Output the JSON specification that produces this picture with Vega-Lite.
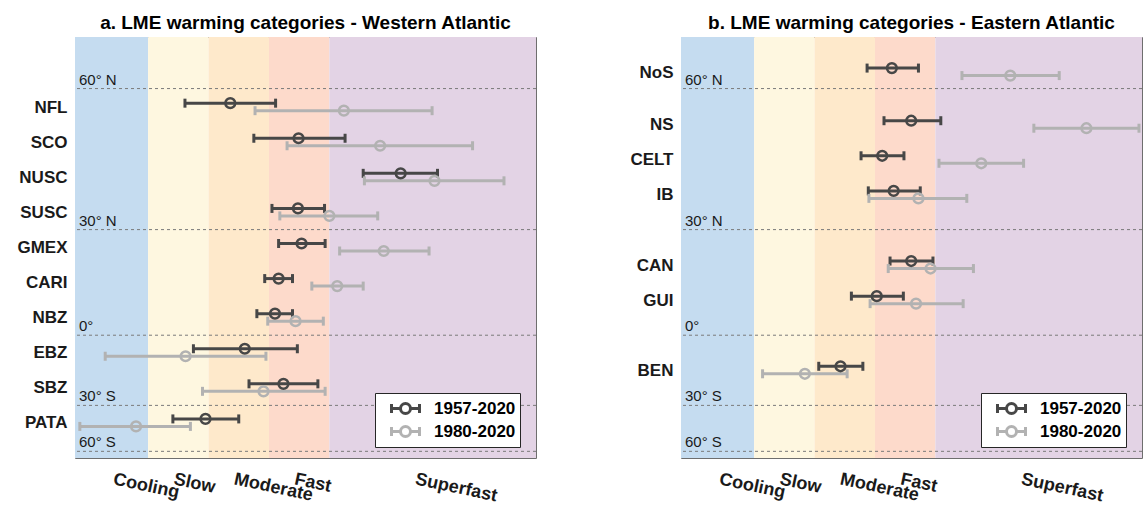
{
  "$schema": "https://vega.github.io/schema/vega-lite/v6.json",
  "padding": {"left": 16, "top": 13, "right": 2, "bottom": 2},
  "background": "white",
  "config": {
    "font": "Liberation Sans",
    "view": {"stroke": "#6e6e6e", "strokeWidth": 1},
    "axis": {"grid": false, "domain": false, "tickColor": "#6e6e6e", "tickWidth": 1, "title": null, "labelColor": "#1a1a1a", "labelOverlap": false, "labelFlush": false},
    "title": {"font": "Liberation Sans", "fontSize": 19, "fontWeight": "bold", "color": "#000000", "anchor": "middle", "frame": "group", "offset": 4},
    "legend": {"orient": "none", "legendX": 300, "legendY": 356, "title": null, "direction": "vertical",
               "symbolType": "M-1.4,-0.45V0.45M-1.4,0H-0.5M0.5,0H1.4M1.4,-0.45V0.45M-0.5,0A0.5,0.5,0,1,1,0.5,0A0.5,0.5,0,1,1,-0.5,0",
               "symbolSize": 400, "symbolStrokeWidth": 3, "symbolFillColor": "transparent", "symbolOpacity": 1, "symbolOffset": 15,
               "labelFontSize": 17, "labelFontWeight": "bold", "labelColor": "#000000", "labelOffset": 17,
               "strokeColor": "#262626", "fillColor": "#ffffff", "padding": 4, "rowPadding": 0}
  },
  "datasets": {
    "bands": [
      {"cat": "Cooling", "lo": -1.21, "hi": 0},
      {"cat": "Slow", "lo": 0, "hi": 1},
      {"cat": "Moderate", "lo": 1, "hi": 2},
      {"cat": "Fast", "lo": 2, "hi": 3},
      {"cat": "Superfast", "lo": 3, "hi": 6.42}
    ],
    "lats": [
      {"label": "60° N", "pos": 0.47},
      {"label": "30° N", "pos": 4.49},
      {"label": "0°", "pos": 7.5},
      {"label": "30° S", "pos": 9.5},
      {"label": "60° S", "pos": 10.81}
    ],
    "west": [
      {"lme": "NFL", "pos": 1, "period": "1957-2020", "lo": 0.61, "mid": 1.36, "hi": 2.11},
      {"lme": "NFL", "pos": 1, "period": "1980-2020", "lo": 1.77, "mid": 3.24, "hi": 4.70},
      {"lme": "SCO", "pos": 2, "period": "1957-2020", "lo": 1.75, "mid": 2.49, "hi": 3.26},
      {"lme": "SCO", "pos": 2, "period": "1980-2020", "lo": 2.30, "mid": 3.84, "hi": 5.37},
      {"lme": "NUSC", "pos": 3, "period": "1957-2020", "lo": 3.56, "mid": 4.18, "hi": 4.79},
      {"lme": "NUSC", "pos": 3, "period": "1980-2020", "lo": 3.58, "mid": 4.74, "hi": 5.89},
      {"lme": "SUSC", "pos": 4, "period": "1957-2020", "lo": 2.05, "mid": 2.48, "hi": 2.92},
      {"lme": "SUSC", "pos": 4, "period": "1980-2020", "lo": 2.18, "mid": 3.00, "hi": 3.80},
      {"lme": "GMEX", "pos": 5, "period": "1957-2020", "lo": 2.16, "mid": 2.54, "hi": 2.93},
      {"lme": "GMEX", "pos": 5, "period": "1980-2020", "lo": 3.17, "mid": 3.90, "hi": 4.65},
      {"lme": "CARI", "pos": 6, "period": "1957-2020", "lo": 1.93, "mid": 2.16, "hi": 2.39},
      {"lme": "CARI", "pos": 6, "period": "1980-2020", "lo": 2.71, "mid": 3.13, "hi": 3.56},
      {"lme": "NBZ", "pos": 7, "period": "1957-2020", "lo": 1.80, "mid": 2.10, "hi": 2.39},
      {"lme": "NBZ", "pos": 7, "period": "1980-2020", "lo": 1.98, "mid": 2.44, "hi": 2.90},
      {"lme": "EBZ", "pos": 8, "period": "1957-2020", "lo": 0.75, "mid": 1.60, "hi": 2.47},
      {"lme": "EBZ", "pos": 8, "period": "1980-2020", "lo": -0.71, "mid": 0.62, "hi": 1.95},
      {"lme": "SBZ", "pos": 9, "period": "1957-2020", "lo": 1.67, "mid": 2.24, "hi": 2.81},
      {"lme": "SBZ", "pos": 9, "period": "1980-2020", "lo": 0.90, "mid": 1.91, "hi": 2.93},
      {"lme": "PATA", "pos": 10, "period": "1957-2020", "lo": 0.41, "mid": 0.95, "hi": 1.50},
      {"lme": "PATA", "pos": 10, "period": "1980-2020", "lo": -1.13, "mid": -0.20, "hi": 0.70}
    ],
    "east": [
      {"lme": "NoS", "pos": 0, "period": "1957-2020", "lo": 1.87, "mid": 2.28, "hi": 2.72},
      {"lme": "NoS", "pos": 0, "period": "1980-2020", "lo": 3.44, "mid": 4.24, "hi": 5.05},
      {"lme": "NS", "pos": 1.5, "period": "1957-2020", "lo": 2.15, "mid": 2.60, "hi": 3.09},
      {"lme": "NS", "pos": 1.5, "period": "1980-2020", "lo": 4.63, "mid": 5.50, "hi": 6.37},
      {"lme": "CELT", "pos": 2.5, "period": "1957-2020", "lo": 1.77, "mid": 2.12, "hi": 2.48},
      {"lme": "CELT", "pos": 2.5, "period": "1980-2020", "lo": 3.06, "mid": 3.76, "hi": 4.46},
      {"lme": "IB", "pos": 3.5, "period": "1957-2020", "lo": 1.89, "mid": 2.31, "hi": 2.75},
      {"lme": "IB", "pos": 3.5, "period": "1980-2020", "lo": 1.90, "mid": 2.72, "hi": 3.52},
      {"lme": "CAN", "pos": 5.5, "period": "1957-2020", "lo": 2.25, "mid": 2.60, "hi": 2.96},
      {"lme": "CAN", "pos": 5.5, "period": "1980-2020", "lo": 2.22, "mid": 2.92, "hi": 3.63},
      {"lme": "GUI", "pos": 6.5, "period": "1957-2020", "lo": 1.61, "mid": 2.03, "hi": 2.47},
      {"lme": "GUI", "pos": 6.5, "period": "1980-2020", "lo": 1.92, "mid": 2.68, "hi": 3.46},
      {"lme": "BEN", "pos": 8.5, "period": "1957-2020", "lo": 1.07, "mid": 1.43, "hi": 1.80},
      {"lme": "BEN", "pos": 8.5, "period": "1980-2020", "lo": 0.14, "mid": 0.84, "hi": 1.54}
    ]
  },
  "spacing": 92,
  "resolve": {
    "scale": {"x": "independent", "y": "independent", "color": "independent", "fill": "independent"},
    "legend": {"color": "independent"}
  },
  "hconcat": [
    {
      "width": 461,
      "height": 421,
      "title": {"text": "a. LME warming categories - Western Atlantic"},
      "resolve": {"axis": {"x": "independent", "y": "independent"}},
      "layer": [
        {
          "data": {"name": "bands"},
          "mark": {"type": "rect"},
          "encoding": {
            "x": {"field": "lo", "type": "quantitative", "scale": {"domain": [-1.21, 6.42], "nice": false, "zero": false},
                  "axis": {"orient": "top", "values": [-0.5, 0.5, 1.5, 2.5, 4.5], "labels": false, "tickSize": -5}},
            "x2": {"field": "hi"},
            "fill": {"field": "cat", "type": "nominal", "legend": null,
                     "scale": {"domain": ["Cooling", "Slow", "Moderate", "Fast", "Superfast"], "range": ["#c5dcf0", "#fef7e0", "#fee9cb", "#fddacb", "#e3d3e5"]}}
          }
        },
        {
          "data": {"name": "lats"},
          "mark": {"type": "rule", "strokeDash": [3, 3], "color": "#7a7a7a", "strokeWidth": 1},
          "encoding": {
            "y": {"field": "pos", "type": "quantitative", "scale": {"domain": [-1, 11], "reverse": true, "nice": false, "zero": false},
                  "axis": {"orient": "right", "values": [1, 2, 3, 4, 5, 6, 7, 8, 9, 10], "labels": false, "tickSize": -5}}
          }
        },
        {
          "data": {"name": "lats"},
          "mark": {"type": "text", "align": "left", "baseline": "bottom", "dx": 4, "dy": -1, "fontSize": 15, "color": "#1a1a1a"},
          "encoding": {
            "x": {"datum": -1.21, "type": "quantitative", "axis": null},
            "y": {"field": "pos", "type": "quantitative", "axis": null},
            "text": {"field": "label"}
          }
        },
        {
          "data": {"name": "west"},
          "transform": [{"filter": "datum.period == '1957-2020'"}],
          "mark": {"type": "rule", "strokeWidth": 3, "color": "#474747", "yOffset": -4},
          "encoding": {
            "x": {"field": "lo", "type": "quantitative",
                  "axis": {"orient": "bottom", "values": [-0.5, 0.5, 1.5, 2.5, 4.5], "tickSize": -5, "labelPadding": 17, "labelOffset": -3,
                           "labelExpr": "datum.value < 0 ? 'Cooling' : datum.value < 1 ? 'Slow' : datum.value < 2 ? 'Moderate' : datum.value < 3 ? 'Fast' : 'Superfast'",
                           "labelAngle": 12, "labelAlign": "left", "labelBaseline": "top", "labelFontSize": 18, "labelFontWeight": "bold"}},
            "x2": {"field": "hi"},
            "y": {"field": "pos", "type": "quantitative",
                  "axis": {"orient": "left", "values": [1, 2, 3, 4, 5, 6, 7, 8, 9, 10], "tickSize": -5, "labelPadding": 13,
                           "labelExpr": "['','NFL','SCO','NUSC','SUSC','GMEX','CARI','NBZ','EBZ','SBZ','PATA'][datum.value]",
                           "labelFontSize": 17, "labelFontWeight": "bold"}}
          }
        },
        {
          "data": {"name": "west"},
          "transform": [{"filter": "datum.period == '1957-2020'"}],
          "mark": {"type": "tick", "orient": "vertical", "size": 9, "thickness": 3, "opacity": 1, "color": "#474747", "yOffset": -4},
          "encoding": {
            "x": {"field": "lo", "type": "quantitative", "axis": null},
            "y": {"field": "pos", "type": "quantitative", "axis": null}
          }
        },
        {
          "data": {"name": "west"},
          "transform": [{"filter": "datum.period == '1957-2020'"}],
          "mark": {"type": "tick", "orient": "vertical", "size": 9, "thickness": 3, "opacity": 1, "color": "#474747", "yOffset": -4},
          "encoding": {
            "x": {"field": "hi", "type": "quantitative", "axis": null},
            "y": {"field": "pos", "type": "quantitative", "axis": null}
          }
        },
        {
          "data": {"name": "west"},
          "transform": [{"filter": "datum.period == '1980-2020'"}],
          "mark": {"type": "rule", "strokeWidth": 3, "color": "#b2b2b2", "yOffset": 3.5},
          "encoding": {
            "x": {"field": "lo", "type": "quantitative", "axis": null},
            "x2": {"field": "hi"},
            "y": {"field": "pos", "type": "quantitative", "axis": null}
          }
        },
        {
          "data": {"name": "west"},
          "transform": [{"filter": "datum.period == '1980-2020'"}],
          "mark": {"type": "tick", "orient": "vertical", "size": 9, "thickness": 3, "opacity": 1, "color": "#b2b2b2", "yOffset": 3.5},
          "encoding": {
            "x": {"field": "lo", "type": "quantitative", "axis": null},
            "y": {"field": "pos", "type": "quantitative", "axis": null}
          }
        },
        {
          "data": {"name": "west"},
          "transform": [{"filter": "datum.period == '1980-2020'"}],
          "mark": {"type": "tick", "orient": "vertical", "size": 9, "thickness": 3, "opacity": 1, "color": "#b2b2b2", "yOffset": 3.5},
          "encoding": {
            "x": {"field": "hi", "type": "quantitative", "axis": null},
            "y": {"field": "pos", "type": "quantitative", "axis": null}
          }
        },
        {
          "data": {"name": "west"},
          "transform": [{"filter": "datum.period == '1957-2020'"}],
          "mark": {"type": "point", "shape": "circle", "filled": false, "size": 95, "strokeWidth": 2.5, "opacity": 1, "yOffset": -4},
          "encoding": {
            "x": {"field": "mid", "type": "quantitative", "axis": null},
            "y": {"field": "pos", "type": "quantitative", "axis": null},
            "color": {"field": "period", "type": "nominal", "scale": {"domain": ["1957-2020", "1980-2020"], "range": ["#474747", "#b2b2b2"]}}
          }
        },
        {
          "data": {"name": "west"},
          "transform": [{"filter": "datum.period == '1980-2020'"}],
          "mark": {"type": "point", "shape": "circle", "filled": false, "size": 95, "strokeWidth": 2.5, "opacity": 1, "yOffset": 3.5},
          "encoding": {
            "x": {"field": "mid", "type": "quantitative", "axis": null},
            "y": {"field": "pos", "type": "quantitative", "axis": null},
            "color": {"field": "period", "type": "nominal"}
          }
        }
      ]
    },
    {
      "width": 461,
      "height": 421,
      "title": {"text": "b. LME warming categories - Eastern Atlantic"},
      "resolve": {"axis": {"x": "independent", "y": "independent"}},
      "layer": [
        {
          "data": {"name": "bands"},
          "mark": {"type": "rect"},
          "encoding": {
            "x": {"field": "lo", "type": "quantitative", "scale": {"domain": [-1.21, 6.42], "nice": false, "zero": false},
                  "axis": {"orient": "top", "values": [-0.5, 0.5, 1.5, 2.5, 4.5], "labels": false, "tickSize": -5}},
            "x2": {"field": "hi"},
            "fill": {"field": "cat", "type": "nominal", "legend": null,
                     "scale": {"domain": ["Cooling", "Slow", "Moderate", "Fast", "Superfast"], "range": ["#c5dcf0", "#fef7e0", "#fee9cb", "#fddacb", "#e3d3e5"]}}
          }
        },
        {
          "data": {"name": "lats"},
          "mark": {"type": "rule", "strokeDash": [3, 3], "color": "#7a7a7a", "strokeWidth": 1},
          "encoding": {
            "y": {"field": "pos", "type": "quantitative", "scale": {"domain": [-1, 11], "reverse": true, "nice": false, "zero": false},
                  "axis": {"orient": "right", "values": [0, 1.5, 2.5, 3.5, 5.5, 6.5, 8.5], "labels": false, "tickSize": -5}}
          }
        },
        {
          "data": {"name": "lats"},
          "mark": {"type": "text", "align": "left", "baseline": "bottom", "dx": 4, "dy": -1, "fontSize": 15, "color": "#1a1a1a"},
          "encoding": {
            "x": {"datum": -1.21, "type": "quantitative", "axis": null},
            "y": {"field": "pos", "type": "quantitative", "axis": null},
            "text": {"field": "label"}
          }
        },
        {
          "data": {"name": "east"},
          "transform": [{"filter": "datum.period == '1957-2020'"}],
          "mark": {"type": "rule", "strokeWidth": 3, "color": "#474747", "yOffset": -4},
          "encoding": {
            "x": {"field": "lo", "type": "quantitative",
                  "axis": {"orient": "bottom", "values": [-0.5, 0.5, 1.5, 2.5, 4.5], "tickSize": -5, "labelPadding": 17, "labelOffset": -3,
                           "labelExpr": "datum.value < 0 ? 'Cooling' : datum.value < 1 ? 'Slow' : datum.value < 2 ? 'Moderate' : datum.value < 3 ? 'Fast' : 'Superfast'",
                           "labelAngle": 12, "labelAlign": "left", "labelBaseline": "top", "labelFontSize": 18, "labelFontWeight": "bold"}},
            "x2": {"field": "hi"},
            "y": {"field": "pos", "type": "quantitative",
                  "axis": {"orient": "left", "values": [0, 1.5, 2.5, 3.5, 5.5, 6.5, 8.5], "tickSize": -5, "labelPadding": 13,
                           "labelExpr": "datum.value == 0 ? 'NoS' : datum.value == 1.5 ? 'NS' : datum.value == 2.5 ? 'CELT' : datum.value == 3.5 ? 'IB' : datum.value == 5.5 ? 'CAN' : datum.value == 6.5 ? 'GUI' : 'BEN'",
                           "labelFontSize": 17, "labelFontWeight": "bold"}}
          }
        },
        {
          "data": {"name": "east"},
          "transform": [{"filter": "datum.period == '1957-2020'"}],
          "mark": {"type": "tick", "orient": "vertical", "size": 9, "thickness": 3, "opacity": 1, "color": "#474747", "yOffset": -4},
          "encoding": {
            "x": {"field": "lo", "type": "quantitative", "axis": null},
            "y": {"field": "pos", "type": "quantitative", "axis": null}
          }
        },
        {
          "data": {"name": "east"},
          "transform": [{"filter": "datum.period == '1957-2020'"}],
          "mark": {"type": "tick", "orient": "vertical", "size": 9, "thickness": 3, "opacity": 1, "color": "#474747", "yOffset": -4},
          "encoding": {
            "x": {"field": "hi", "type": "quantitative", "axis": null},
            "y": {"field": "pos", "type": "quantitative", "axis": null}
          }
        },
        {
          "data": {"name": "east"},
          "transform": [{"filter": "datum.period == '1980-2020'"}],
          "mark": {"type": "rule", "strokeWidth": 3, "color": "#b2b2b2", "yOffset": 3.5},
          "encoding": {
            "x": {"field": "lo", "type": "quantitative", "axis": null},
            "x2": {"field": "hi"},
            "y": {"field": "pos", "type": "quantitative", "axis": null}
          }
        },
        {
          "data": {"name": "east"},
          "transform": [{"filter": "datum.period == '1980-2020'"}],
          "mark": {"type": "tick", "orient": "vertical", "size": 9, "thickness": 3, "opacity": 1, "color": "#b2b2b2", "yOffset": 3.5},
          "encoding": {
            "x": {"field": "lo", "type": "quantitative", "axis": null},
            "y": {"field": "pos", "type": "quantitative", "axis": null}
          }
        },
        {
          "data": {"name": "east"},
          "transform": [{"filter": "datum.period == '1980-2020'"}],
          "mark": {"type": "tick", "orient": "vertical", "size": 9, "thickness": 3, "opacity": 1, "color": "#b2b2b2", "yOffset": 3.5},
          "encoding": {
            "x": {"field": "hi", "type": "quantitative", "axis": null},
            "y": {"field": "pos", "type": "quantitative", "axis": null}
          }
        },
        {
          "data": {"name": "east"},
          "transform": [{"filter": "datum.period == '1957-2020'"}],
          "mark": {"type": "point", "shape": "circle", "filled": false, "size": 95, "strokeWidth": 2.5, "opacity": 1, "yOffset": -4},
          "encoding": {
            "x": {"field": "mid", "type": "quantitative", "axis": null},
            "y": {"field": "pos", "type": "quantitative", "axis": null},
            "color": {"field": "period", "type": "nominal", "scale": {"domain": ["1957-2020", "1980-2020"], "range": ["#474747", "#b2b2b2"]}}
          }
        },
        {
          "data": {"name": "east"},
          "transform": [{"filter": "datum.period == '1980-2020'"}],
          "mark": {"type": "point", "shape": "circle", "filled": false, "size": 95, "strokeWidth": 2.5, "opacity": 1, "yOffset": 3.5},
          "encoding": {
            "x": {"field": "mid", "type": "quantitative", "axis": null},
            "y": {"field": "pos", "type": "quantitative", "axis": null},
            "color": {"field": "period", "type": "nominal"}
          }
        }
      ]
    }
  ]
}
